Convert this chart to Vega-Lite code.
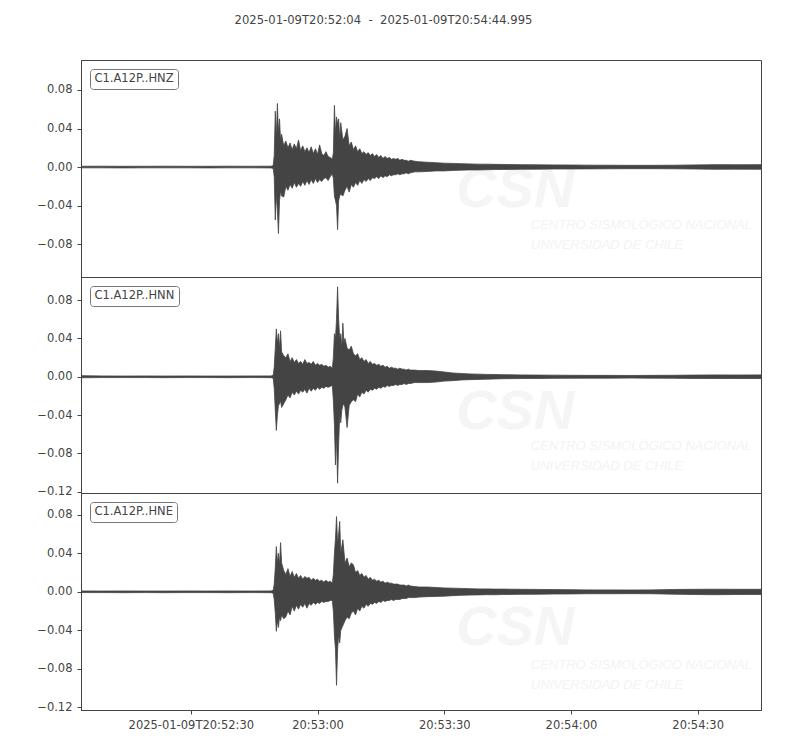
{
"$schema":"https://vega.github.io/schema/vega-lite/v6.json",
"background":"white",
"padding":{"left":5,"top":14,"right":30,"bottom":5},
"title":{"text":"2025-01-09T20:52:04 \u00a0-\u00a0 2025-01-09T20:54:44.995","fontSize":11.6,"fontWeight":"normal","font":"DejaVu Sans","color":"#444","offset":33,"anchor":"middle"},
"spacing":0,
"bounds":"flush",
"config":{
"font":"DejaVu Sans",
"view":{"stroke":"#444","strokeWidth":1},
"axis":{"grid":false,"domainColor":"#444","domainWidth":1,"tickColor":"#444","tickWidth":1,"tickSize":4,"labelColor":"#444","labelFont":"DejaVu Sans","labelFontSize":11.5,"labelPadding":5,"title":null},
"axisY":{"minExtent":75,"maxExtent":75},
"legend":{"orient":"top-left","offset":9,"padding":4,"cornerRadius":3,"strokeColor":"#777","fillColor":"white","labelFont":"DejaVu Sans","labelFontSize":11.5,"labelColor":"#444","symbolSize":0,"symbolStrokeWidth":0,"symbolOpacity":0,"labelOffset":-11,"title":null}
},
"resolve":{"scale":{"color":"independent"},"legend":{"color":"independent"}},
"datasets":{
"z":[{"t":0,"hi":0.0008,"lo":-0.0008},{"t":5,"hi":0.0009,"lo":-0.0008},{"t":10,"hi":0.0008,"lo":-0.0009},{"t":15,"hi":0.0008,"lo":-0.0008},{"t":20,"hi":0.0009,"lo":-0.0008},{"t":25,"hi":0.0008,"lo":-0.0008},{"t":30,"hi":0.0008,"lo":-0.0009},{"t":35,"hi":0.0009,"lo":-0.0008},{"t":40,"hi":0.0008,"lo":-0.0008},{"t":45,"hi":0.0009,"lo":-0.0009},{"t":45.5,"hi":0.0015,"lo":-0.0015},{"t":45.75,"hi":0.012,"lo":-0.01},{"t":46,"hi":0.058,"lo":-0.055},{"t":46.25,"hi":0.03,"lo":-0.028},{"t":46.5,"hi":0.066,"lo":-0.045},{"t":46.75,"hi":0.035,"lo":-0.069},{"t":47,"hi":0.05,"lo":-0.035},{"t":47.25,"hi":0.028,"lo":-0.025},{"t":47.5,"hi":0.034,"lo":-0.03},{"t":48,"hi":0.022,"lo":-0.031},{"t":48.5,"hi":0.027,"lo":-0.02},{"t":49,"hi":0.02,"lo":-0.024},{"t":49.5,"hi":0.025,"lo":-0.018},{"t":50,"hi":0.018,"lo":-0.022},{"t":50.5,"hi":0.024,"lo":-0.016},{"t":51,"hi":0.019,"lo":-0.021},{"t":51.5,"hi":0.028,"lo":-0.017},{"t":52,"hi":0.017,"lo":-0.02},{"t":52.5,"hi":0.022,"lo":-0.015},{"t":53,"hi":0.016,"lo":-0.019},{"t":53.5,"hi":0.02,"lo":-0.014},{"t":54,"hi":0.015,"lo":-0.018},{"t":54.5,"hi":0.021,"lo":-0.013},{"t":55,"hi":0.014,"lo":-0.017},{"t":55.5,"hi":0.019,"lo":-0.012},{"t":56,"hi":0.013,"lo":-0.016},{"t":56.5,"hi":0.023,"lo":-0.013},{"t":57,"hi":0.014,"lo":-0.015},{"t":57.5,"hi":0.012,"lo":-0.012},{"t":58,"hi":0.016,"lo":-0.011},{"t":58.5,"hi":0.011,"lo":-0.014},{"t":59,"hi":0.01,"lo":-0.01},{"t":59.5,"hi":0.008,"lo":-0.007},{"t":59.75,"hi":0.015,"lo":-0.012},{"t":60,"hi":0.064,"lo":-0.03},{"t":60.25,"hi":0.035,"lo":-0.035},{"t":60.5,"hi":0.052,"lo":-0.04},{"t":60.75,"hi":0.045,"lo":-0.065},{"t":61,"hi":0.05,"lo":-0.035},{"t":61.25,"hi":0.03,"lo":-0.03},{"t":61.5,"hi":0.046,"lo":-0.028},{"t":62,"hi":0.028,"lo":-0.03},{"t":62.5,"hi":0.032,"lo":-0.024},{"t":63,"hi":0.04,"lo":-0.02},{"t":63.5,"hi":0.022,"lo":-0.026},{"t":64,"hi":0.026,"lo":-0.018},{"t":64.5,"hi":0.018,"lo":-0.021},{"t":65,"hi":0.022,"lo":-0.016},{"t":65.5,"hi":0.016,"lo":-0.019},{"t":66,"hi":0.019,"lo":-0.014},{"t":66.5,"hi":0.014,"lo":-0.017},{"t":67,"hi":0.016,"lo":-0.013},{"t":67.5,"hi":0.013,"lo":-0.015},{"t":68,"hi":0.015,"lo":-0.012},{"t":68.5,"hi":0.012,"lo":-0.014},{"t":69,"hi":0.014,"lo":-0.011},{"t":69.5,"hi":0.011,"lo":-0.012},{"t":70,"hi":0.013,"lo":-0.01},{"t":70.5,"hi":0.01,"lo":-0.012},{"t":71,"hi":0.012,"lo":-0.009},{"t":71.5,"hi":0.009,"lo":-0.011},{"t":72,"hi":0.011,"lo":-0.009},{"t":72.5,"hi":0.009,"lo":-0.01},{"t":73,"hi":0.01,"lo":-0.008},{"t":73.5,"hi":0.008,"lo":-0.009},{"t":74,"hi":0.009,"lo":-0.008},{"t":74.5,"hi":0.008,"lo":-0.008},{"t":75,"hi":0.009,"lo":-0.007},{"t":75.5,"hi":0.007,"lo":-0.008},{"t":76,"hi":0.008,"lo":-0.007},{"t":76.5,"hi":0.007,"lo":-0.007},{"t":77,"hi":0.007,"lo":-0.006},{"t":77.5,"hi":0.006,"lo":-0.007},{"t":78,"hi":0.007,"lo":-0.006},{"t":79,"hi":0.006,"lo":-0.005},{"t":80,"hi":0.0055,"lo":-0.005},{"t":82,"hi":0.005,"lo":-0.0045},{"t":84,"hi":0.0045,"lo":-0.004},{"t":86,"hi":0.004,"lo":-0.004},{"t":88,"hi":0.0038,"lo":-0.0035},{"t":90,"hi":0.0035,"lo":-0.0032},{"t":92,"hi":0.0033,"lo":-0.003},{"t":94,"hi":0.003,"lo":-0.003},{"t":96,"hi":0.003,"lo":-0.0028},{"t":98,"hi":0.0028,"lo":-0.0026},{"t":100,"hi":0.0027,"lo":-0.0025},{"t":104,"hi":0.0025,"lo":-0.0023},{"t":108,"hi":0.0023,"lo":-0.0022},{"t":112,"hi":0.0022,"lo":-0.002},{"t":116,"hi":0.0021,"lo":-0.002},{"t":120,"hi":0.002,"lo":-0.0019},{"t":125,"hi":0.0019,"lo":-0.0018},{"t":130,"hi":0.0018,"lo":-0.0017},{"t":135,"hi":0.0018,"lo":-0.0017},{"t":140,"hi":0.0019,"lo":-0.0018},{"t":145,"hi":0.0022,"lo":-0.002},{"t":150,"hi":0.0025,"lo":-0.0023},{"t":155,"hi":0.0024,"lo":-0.0022},{"t":161,"hi":0.0025,"lo":-0.0023}],
"n":[{"t":0,"hi":0.0012,"lo":-0.001},{"t":5,"hi":0.0009,"lo":-0.0008},{"t":10,"hi":0.0008,"lo":-0.0008},{"t":15,"hi":0.0009,"lo":-0.0008},{"t":20,"hi":0.0008,"lo":-0.0009},{"t":25,"hi":0.0009,"lo":-0.0008},{"t":30,"hi":0.0008,"lo":-0.0008},{"t":35,"hi":0.0008,"lo":-0.0009},{"t":40,"hi":0.0009,"lo":-0.0008},{"t":45,"hi":0.0009,"lo":-0.0009},{"t":45.5,"hi":0.0015,"lo":-0.0015},{"t":45.75,"hi":0.01,"lo":-0.012},{"t":46,"hi":0.03,"lo":-0.035},{"t":46.25,"hi":0.05,"lo":-0.056},{"t":46.5,"hi":0.035,"lo":-0.04},{"t":46.75,"hi":0.045,"lo":-0.03},{"t":47,"hi":0.03,"lo":-0.028},{"t":47.25,"hi":0.048,"lo":-0.025},{"t":47.5,"hi":0.026,"lo":-0.032},{"t":48,"hi":0.022,"lo":-0.028},{"t":48.5,"hi":0.02,"lo":-0.024},{"t":49,"hi":0.024,"lo":-0.019},{"t":49.5,"hi":0.016,"lo":-0.022},{"t":50,"hi":0.02,"lo":-0.016},{"t":50.5,"hi":0.015,"lo":-0.019},{"t":51,"hi":0.018,"lo":-0.015},{"t":51.5,"hi":0.014,"lo":-0.018},{"t":52,"hi":0.016,"lo":-0.014},{"t":52.5,"hi":0.013,"lo":-0.016},{"t":53,"hi":0.018,"lo":-0.013},{"t":53.5,"hi":0.014,"lo":-0.017},{"t":54,"hi":0.015,"lo":-0.012},{"t":54.5,"hi":0.013,"lo":-0.015},{"t":55,"hi":0.016,"lo":-0.012},{"t":55.5,"hi":0.012,"lo":-0.014},{"t":56,"hi":0.014,"lo":-0.011},{"t":56.5,"hi":0.012,"lo":-0.013},{"t":57,"hi":0.013,"lo":-0.011},{"t":57.5,"hi":0.011,"lo":-0.012},{"t":58,"hi":0.012,"lo":-0.01},{"t":58.5,"hi":0.01,"lo":-0.011},{"t":59,"hi":0.011,"lo":-0.01},{"t":59.5,"hi":0.009,"lo":-0.009},{"t":59.75,"hi":0.02,"lo":-0.025},{"t":60,"hi":0.045,"lo":-0.05},{"t":60.25,"hi":0.04,"lo":-0.092},{"t":60.5,"hi":0.06,"lo":-0.06},{"t":60.75,"hi":0.094,"lo":-0.111},{"t":61,"hi":0.06,"lo":-0.07},{"t":61.25,"hi":0.04,"lo":-0.04},{"t":61.5,"hi":0.045,"lo":-0.048},{"t":61.75,"hi":0.03,"lo":-0.035},{"t":62,"hi":0.056,"lo":-0.03},{"t":62.25,"hi":0.035,"lo":-0.028},{"t":62.5,"hi":0.04,"lo":-0.032},{"t":63,"hi":0.03,"lo":-0.053},{"t":63.5,"hi":0.028,"lo":-0.03},{"t":64,"hi":0.032,"lo":-0.026},{"t":64.5,"hi":0.024,"lo":-0.024},{"t":65,"hi":0.022,"lo":-0.026},{"t":65.5,"hi":0.024,"lo":-0.018},{"t":66,"hi":0.018,"lo":-0.021},{"t":66.5,"hi":0.02,"lo":-0.016},{"t":67,"hi":0.016,"lo":-0.018},{"t":67.5,"hi":0.018,"lo":-0.014},{"t":68,"hi":0.014,"lo":-0.016},{"t":68.5,"hi":0.016,"lo":-0.013},{"t":69,"hi":0.013,"lo":-0.014},{"t":69.5,"hi":0.014,"lo":-0.012},{"t":70,"hi":0.012,"lo":-0.013},{"t":70.5,"hi":0.013,"lo":-0.011},{"t":71,"hi":0.011,"lo":-0.012},{"t":71.5,"hi":0.012,"lo":-0.01},{"t":72,"hi":0.01,"lo":-0.011},{"t":72.5,"hi":0.011,"lo":-0.009},{"t":73,"hi":0.009,"lo":-0.01},{"t":73.5,"hi":0.01,"lo":-0.009},{"t":74,"hi":0.009,"lo":-0.009},{"t":74.5,"hi":0.009,"lo":-0.008},{"t":75,"hi":0.008,"lo":-0.009},{"t":75.5,"hi":0.009,"lo":-0.008},{"t":76,"hi":0.008,"lo":-0.008},{"t":76.5,"hi":0.008,"lo":-0.007},{"t":77,"hi":0.007,"lo":-0.008},{"t":77.5,"hi":0.008,"lo":-0.007},{"t":78,"hi":0.007,"lo":-0.007},{"t":79,"hi":0.007,"lo":-0.006},{"t":80,"hi":0.0065,"lo":-0.006},{"t":82,"hi":0.0065,"lo":-0.006},{"t":84,"hi":0.006,"lo":-0.0055},{"t":86,"hi":0.005,"lo":-0.0045},{"t":88,"hi":0.004,"lo":-0.004},{"t":90,"hi":0.0035,"lo":-0.0033},{"t":92,"hi":0.003,"lo":-0.003},{"t":94,"hi":0.0028,"lo":-0.0027},{"t":96,"hi":0.0025,"lo":-0.0025},{"t":98,"hi":0.0024,"lo":-0.0022},{"t":100,"hi":0.0022,"lo":-0.002},{"t":104,"hi":0.002,"lo":-0.0018},{"t":108,"hi":0.0018,"lo":-0.0017},{"t":112,"hi":0.0017,"lo":-0.0016},{"t":116,"hi":0.0016,"lo":-0.0015},{"t":120,"hi":0.0015,"lo":-0.0014},{"t":125,"hi":0.0015,"lo":-0.0014},{"t":130,"hi":0.0014,"lo":-0.0013},{"t":135,"hi":0.0015,"lo":-0.0014},{"t":140,"hi":0.0016,"lo":-0.0015},{"t":145,"hi":0.0018,"lo":-0.0017},{"t":150,"hi":0.002,"lo":-0.0018},{"t":155,"hi":0.0019,"lo":-0.0018},{"t":161,"hi":0.002,"lo":-0.0018}],
"e":[{"t":0,"hi":0.0009,"lo":-0.0008},{"t":5,"hi":0.0008,"lo":-0.0008},{"t":10,"hi":0.0009,"lo":-0.0009},{"t":15,"hi":0.0008,"lo":-0.0008},{"t":20,"hi":0.0008,"lo":-0.0009},{"t":25,"hi":0.0009,"lo":-0.0008},{"t":30,"hi":0.0008,"lo":-0.0008},{"t":35,"hi":0.0009,"lo":-0.0009},{"t":40,"hi":0.0008,"lo":-0.0008},{"t":45,"hi":0.0009,"lo":-0.0009},{"t":45.5,"hi":0.0015,"lo":-0.0015},{"t":45.75,"hi":0.008,"lo":-0.008},{"t":46,"hi":0.025,"lo":-0.022},{"t":46.25,"hi":0.047,"lo":-0.041},{"t":46.5,"hi":0.03,"lo":-0.03},{"t":46.75,"hi":0.04,"lo":-0.037},{"t":47,"hi":0.028,"lo":-0.026},{"t":47.25,"hi":0.051,"lo":-0.03},{"t":47.5,"hi":0.03,"lo":-0.024},{"t":48,"hi":0.022,"lo":-0.028},{"t":48.5,"hi":0.018,"lo":-0.026},{"t":49,"hi":0.024,"lo":-0.02},{"t":49.5,"hi":0.016,"lo":-0.024},{"t":50,"hi":0.021,"lo":-0.015},{"t":50.5,"hi":0.015,"lo":-0.02},{"t":51,"hi":0.019,"lo":-0.014},{"t":51.5,"hi":0.014,"lo":-0.018},{"t":52,"hi":0.017,"lo":-0.013},{"t":52.5,"hi":0.013,"lo":-0.016},{"t":53,"hi":0.016,"lo":-0.012},{"t":53.5,"hi":0.014,"lo":-0.017},{"t":54,"hi":0.015,"lo":-0.012},{"t":54.5,"hi":0.012,"lo":-0.014},{"t":55,"hi":0.014,"lo":-0.011},{"t":55.5,"hi":0.012,"lo":-0.013},{"t":56,"hi":0.013,"lo":-0.011},{"t":56.5,"hi":0.011,"lo":-0.012},{"t":57,"hi":0.012,"lo":-0.01},{"t":57.5,"hi":0.01,"lo":-0.011},{"t":58,"hi":0.012,"lo":-0.01},{"t":58.5,"hi":0.01,"lo":-0.01},{"t":59,"hi":0.011,"lo":-0.009},{"t":59.5,"hi":0.009,"lo":-0.009},{"t":59.75,"hi":0.018,"lo":-0.02},{"t":60,"hi":0.04,"lo":-0.045},{"t":60.25,"hi":0.055,"lo":-0.06},{"t":60.5,"hi":0.078,"lo":-0.097},{"t":60.75,"hi":0.05,"lo":-0.06},{"t":61,"hi":0.06,"lo":-0.045},{"t":61.25,"hi":0.073,"lo":-0.053},{"t":61.5,"hi":0.04,"lo":-0.04},{"t":62,"hi":0.054,"lo":-0.035},{"t":62.5,"hi":0.03,"lo":-0.03},{"t":63,"hi":0.035,"lo":-0.026},{"t":63.5,"hi":0.026,"lo":-0.028},{"t":64,"hi":0.03,"lo":-0.022},{"t":64.5,"hi":0.028,"lo":-0.02},{"t":65,"hi":0.02,"lo":-0.024},{"t":65.5,"hi":0.022,"lo":-0.017},{"t":66,"hi":0.017,"lo":-0.02},{"t":66.5,"hi":0.019,"lo":-0.015},{"t":67,"hi":0.015,"lo":-0.017},{"t":67.5,"hi":0.017,"lo":-0.013},{"t":68,"hi":0.013,"lo":-0.015},{"t":68.5,"hi":0.015,"lo":-0.012},{"t":69,"hi":0.012,"lo":-0.013},{"t":69.5,"hi":0.013,"lo":-0.011},{"t":70,"hi":0.011,"lo":-0.012},{"t":70.5,"hi":0.012,"lo":-0.01},{"t":71,"hi":0.01,"lo":-0.011},{"t":71.5,"hi":0.011,"lo":-0.009},{"t":72,"hi":0.009,"lo":-0.01},{"t":72.5,"hi":0.01,"lo":-0.009},{"t":73,"hi":0.009,"lo":-0.009},{"t":73.5,"hi":0.009,"lo":-0.008},{"t":74,"hi":0.008,"lo":-0.009},{"t":74.5,"hi":0.008,"lo":-0.008},{"t":75,"hi":0.008,"lo":-0.008},{"t":75.5,"hi":0.007,"lo":-0.008},{"t":76,"hi":0.007,"lo":-0.007},{"t":76.5,"hi":0.007,"lo":-0.007},{"t":77,"hi":0.006,"lo":-0.007},{"t":77.5,"hi":0.007,"lo":-0.006},{"t":78,"hi":0.006,"lo":-0.006},{"t":79,"hi":0.0055,"lo":-0.006},{"t":80,"hi":0.005,"lo":-0.0055},{"t":82,"hi":0.005,"lo":-0.005},{"t":84,"hi":0.0045,"lo":-0.0048},{"t":86,"hi":0.004,"lo":-0.0045},{"t":88,"hi":0.0038,"lo":-0.004},{"t":90,"hi":0.0035,"lo":-0.0036},{"t":92,"hi":0.0033,"lo":-0.0034},{"t":94,"hi":0.003,"lo":-0.0032},{"t":96,"hi":0.003,"lo":-0.003},{"t":98,"hi":0.0028,"lo":-0.003},{"t":100,"hi":0.0028,"lo":-0.0028},{"t":104,"hi":0.0026,"lo":-0.0026},{"t":108,"hi":0.0025,"lo":-0.0025},{"t":112,"hi":0.0023,"lo":-0.0023},{"t":116,"hi":0.0022,"lo":-0.0022},{"t":120,"hi":0.002,"lo":-0.002},{"t":125,"hi":0.002,"lo":-0.002},{"t":130,"hi":0.0019,"lo":-0.0019},{"t":135,"hi":0.002,"lo":-0.002},{"t":140,"hi":0.0024,"lo":-0.0024},{"t":145,"hi":0.0026,"lo":-0.0028},{"t":150,"hi":0.0027,"lo":-0.003},{"t":155,"hi":0.0026,"lo":-0.0028},{"t":161,"hi":0.0026,"lo":-0.0027}]
},
"vconcat":[
{"width":680,"height":217,
"layer":[
{"data":{"values":[{}]},"mark":{"type":"text","text":"CSN","font":"Liberation Sans Narrow, Liberation Sans, sans-serif","fontStyle":"italic","fontWeight":"bold","fontSize":56,"color":"#f5f5f5","align":"left","baseline":"alphabetic"},
"encoding":{"x":{"datum":88.8,"type":"quantitative","scale":{"domain":[0,161]},"axis":null},"y":{"datum":-0.0415,"type":"quantitative","scale":{"domain":[-0.1141,0.1111],"nice":false,"zero":false},"axis":{"values":[-0.08,-0.04,0,0.04,0.08],"labelExpr":"replace(format(datum.value,'.2f'),'-','−')"}}}},
{"data":{"values":[{}]},"mark":{"type":"text","text":["CENTRO SISMOLÓGICO NACIONAL","UNIVERSIDAD DE CHILE"],"font":"Liberation Sans Narrow, Liberation Sans, sans-serif","fontStyle":"italic","fontSize":13,"lineHeight":20,"color":"#f3f3f3","align":"left","baseline":"alphabetic"},
"encoding":{"x":{"datum":106.5,"type":"quantitative","scale":{"domain":[0,161]},"axis":null},"y":{"datum":-0.0643,"type":"quantitative","scale":{"domain":[-0.1141,0.1111],"nice":false,"zero":false},"axis":{"values":[-0.08,-0.04,0,0.04,0.08],"labelExpr":"replace(format(datum.value,'.2f'),'-','−')"}}}},
{"data":{"name":"z"},"mark":{"type":"area","stroke":"#444","strokeWidth":0.8,"clip":true},
"encoding":{"x":{"field":"t","type":"quantitative","scale":{"domain":[0,161]},"axis":null},
"y":{"field":"hi","type":"quantitative","scale":{"domain":[-0.1141,0.1111],"nice":false,"zero":false},"axis":{"values":[-0.08,-0.04,0,0.04,0.08],"labelExpr":"replace(format(datum.value,'.2f'),'-','−')"}},
"y2":{"field":"lo"},
"color":{"datum":"C1.A12P..HNZ","scale":{"range":["#444"]},"legend":{"title":null}}}}
]},
{"width":680,"height":216,
"layer":[
{"data":{"values":[{}]},"mark":{"type":"text","text":"CSN","font":"Liberation Sans Narrow, Liberation Sans, sans-serif","fontStyle":"italic","fontWeight":"bold","fontSize":56,"color":"#f5f5f5","align":"left","baseline":"alphabetic"},
"encoding":{"x":{"datum":88.8,"type":"quantitative","scale":{"domain":[0,161]},"axis":null},"y":{"datum":-0.054,"type":"quantitative","scale":{"domain":[-0.1213,0.1042],"nice":false,"zero":false},"axis":{"values":[-0.12,-0.08,-0.04,0,0.04,0.08],"labelExpr":"replace(format(datum.value,'.2f'),'-','−')"}}}},
{"data":{"values":[{}]},"mark":{"type":"text","text":["CENTRO SISMOLÓGICO NACIONAL","UNIVERSIDAD DE CHILE"],"font":"Liberation Sans Narrow, Liberation Sans, sans-serif","fontStyle":"italic","fontSize":13,"lineHeight":20,"color":"#f3f3f3","align":"left","baseline":"alphabetic"},
"encoding":{"x":{"datum":106.5,"type":"quantitative","scale":{"domain":[0,161]},"axis":null},"y":{"datum":-0.076,"type":"quantitative","scale":{"domain":[-0.1213,0.1042],"nice":false,"zero":false},"axis":{"values":[-0.12,-0.08,-0.04,0,0.04,0.08],"labelExpr":"replace(format(datum.value,'.2f'),'-','−')"}}}},
{"data":{"name":"n"},"mark":{"type":"area","stroke":"#444","strokeWidth":0.8,"clip":true},
"encoding":{"x":{"field":"t","type":"quantitative","scale":{"domain":[0,161]},"axis":null},
"y":{"field":"hi","type":"quantitative","scale":{"domain":[-0.1213,0.1042],"nice":false,"zero":false},"axis":{"values":[-0.12,-0.08,-0.04,0,0.04,0.08],"labelExpr":"replace(format(datum.value,'.2f'),'-','−')"}},
"y2":{"field":"lo"},
"color":{"datum":"C1.A12P..HNN","scale":{"range":["#444"]},"legend":{"title":null}}}}
]},
{"width":680,"height":217,
"layer":[
{"data":{"values":[{}]},"mark":{"type":"text","text":"CSN","font":"Liberation Sans Narrow, Liberation Sans, sans-serif","fontStyle":"italic","fontWeight":"bold","fontSize":56,"color":"#f5f5f5","align":"left","baseline":"alphabetic"},
"encoding":{"x":{"datum":88.8,"type":"quantitative","scale":{"domain":[0,161],"nice":false,"zero":false},"axis":{"values":[26,56,86,116,146],"labelFlush":false,"labelExpr":"datum.value == 26 ? '2025-01-09T20:52:30' : utcFormat(1736455924000 + datum.value * 1000, '%H:%M:%S')"}},"y":{"datum":-0.055,"type":"quantitative","scale":{"domain":[-0.1226,0.1025],"nice":false,"zero":false},"axis":{"values":[-0.12,-0.08,-0.04,0,0.04,0.08],"labelExpr":"replace(format(datum.value,'.2f'),'-','−')"}}}},
{"data":{"values":[{}]},"mark":{"type":"text","text":["CENTRO SISMOLÓGICO NACIONAL","UNIVERSIDAD DE CHILE"],"font":"Liberation Sans Narrow, Liberation Sans, sans-serif","fontStyle":"italic","fontSize":13,"lineHeight":20,"color":"#f3f3f3","align":"left","baseline":"alphabetic"},
"encoding":{"x":{"datum":106.5,"type":"quantitative","scale":{"domain":[0,161],"nice":false,"zero":false},"axis":{"values":[26,56,86,116,146],"labelFlush":false,"labelExpr":"datum.value == 26 ? '2025-01-09T20:52:30' : utcFormat(1736455924000 + datum.value * 1000, '%H:%M:%S')"}},"y":{"datum":-0.0798,"type":"quantitative","scale":{"domain":[-0.1226,0.1025],"nice":false,"zero":false},"axis":{"values":[-0.12,-0.08,-0.04,0,0.04,0.08],"labelExpr":"replace(format(datum.value,'.2f'),'-','−')"}}}},
{"data":{"name":"e"},"mark":{"type":"area","stroke":"#444","strokeWidth":0.8,"clip":true},
"encoding":{"x":{"field":"t","type":"quantitative","scale":{"domain":[0,161],"nice":false,"zero":false},"axis":{"values":[26,56,86,116,146],"labelFlush":false,"labelExpr":"datum.value == 26 ? '2025-01-09T20:52:30' : utcFormat(1736455924000 + datum.value * 1000, '%H:%M:%S')"}},
"y":{"field":"hi","type":"quantitative","scale":{"domain":[-0.1226,0.1025],"nice":false,"zero":false},"axis":{"values":[-0.12,-0.08,-0.04,0,0.04,0.08],"labelExpr":"replace(format(datum.value,'.2f'),'-','−')"}},
"y2":{"field":"lo"},
"color":{"datum":"C1.A12P..HNE","scale":{"range":["#444"]},"legend":{"title":null}}}}
]}
]
}
